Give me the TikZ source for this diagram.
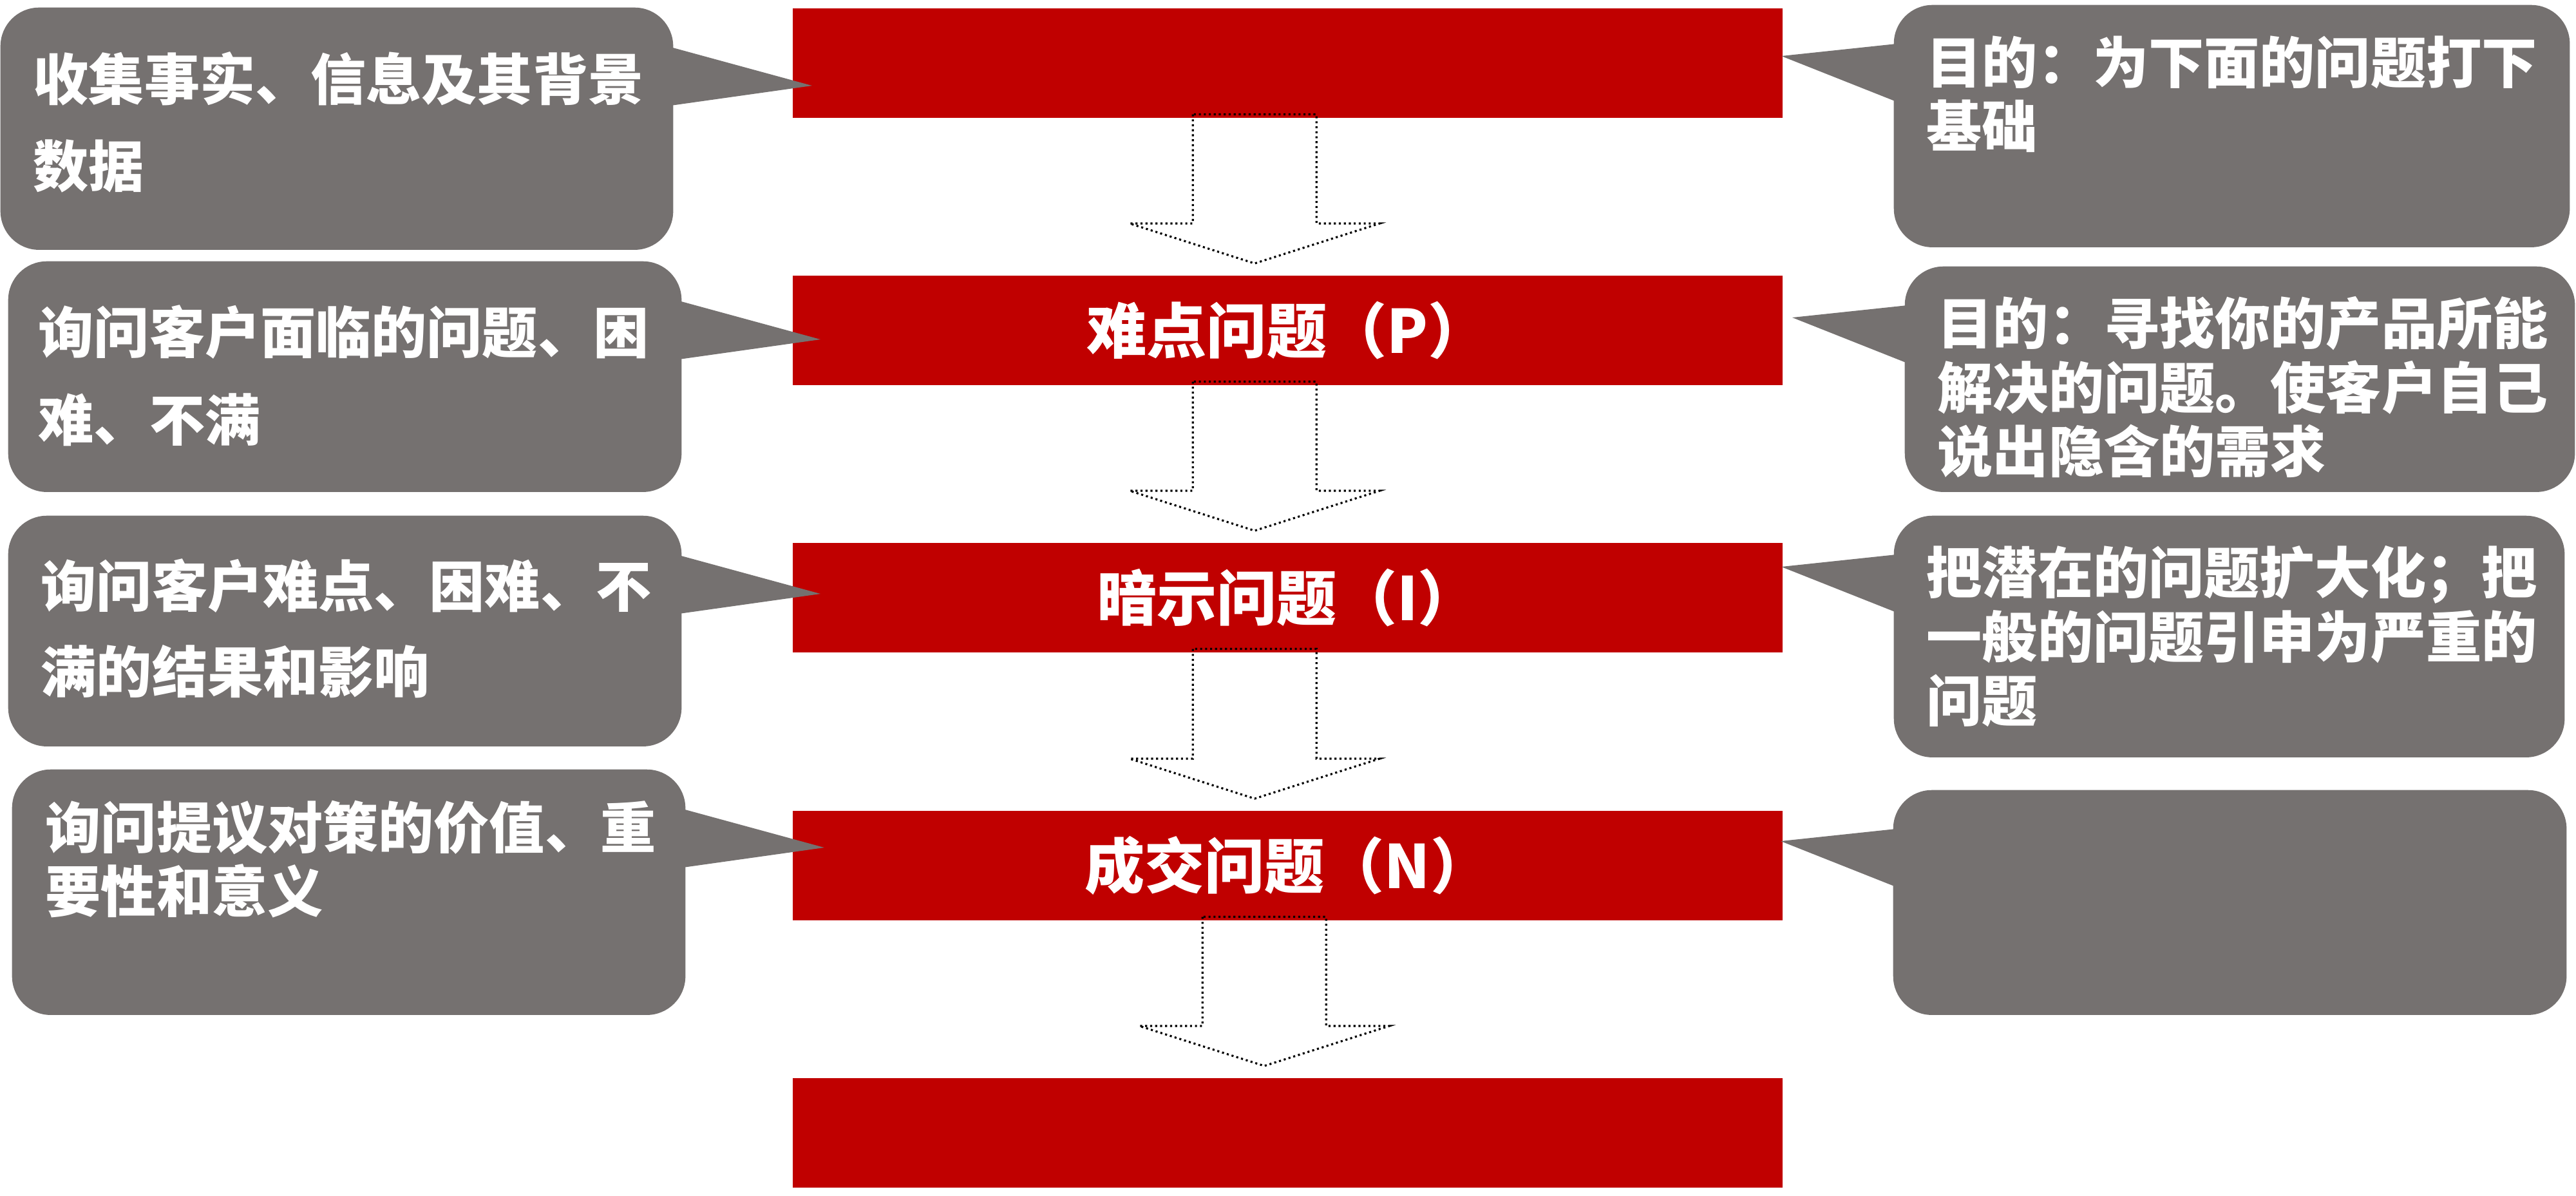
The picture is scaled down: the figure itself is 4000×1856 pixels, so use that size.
\documentclass[tikz,border=0pt]{standalone}
\usepackage{fontspec}
\newfontfamily\cjk{Noto Sans CJK SC}
\usetikzlibrary{calc, positioning}
\definecolor{qred}{RGB}{192,0,0}
\definecolor{tipgray}{RGB}{117,113,112}
\tikzset{
	qbar/.style={fill=qred, anchor=north west, minimum width=15.36cm, minimum height=1.70cm, inner sep=0pt, text=white, font=\cjk\bfseries\fontsize{26.5}{30}\selectfont},
	tipbox/.style={fill=tipgray, rounded corners=0.6cm, anchor=north west, inner sep=0pt},
	tiptext/.style={anchor=north west, inner sep=0pt, text=white, align=left, text width=10cm, font=\cjk\bfseries\fontsize{24.5}{#1}\selectfont},
	tiptext/.default=28.2,
	blockarrow/.style={draw=black, line width=0.9pt, dash pattern=on 0.9pt off 1.3pt},
}

\begin{document}
\begin{tikzpicture}[x=0.01cm, y=-0.01cm]
	\useasboundingbox (0,0) rectangle (4000,1856);

	% the five question bars
	\foreach \name/\top/\txt in {B1/12/{}, B2/427/{难点问题（P）}, B3/842/{暗示问题（I）}, B4/1258/{成交问题（N）}, B5/1673/{}} {
		\node[qbar] (\name) at (1230,\top) {\txt};
	}

	% dotted block arrows from bar to bar
	\foreach \a/\b/\dx in {B1/B2/-51, B2/B3/-51, B3/B4/-51, B4/B5/-36} {
		\draw[blockarrow]	($(\a.south)+(\dx-96,-6)$) -- ($(\b.north)+(\dx-96,-80)$) -- ($(\b.north)+(\dx-194,-80)$)
			-- ($(\b.north)+(\dx,-18)$) -- ($(\b.north)+(\dx+194,-80)$) -- ($(\b.north)+(\dx+96,-80)$)
			-- ($(\a.south)+(\dx+96,-6)$) -- cycle;
	}

	% grey callouts, left and right
	\foreach \name/\x/\y/\w/\h in {L1/0/11/10.44/3.76, L2/12/405/10.45/3.58, L3/12/800/10.45/3.58, L4/18/1194/10.45/3.81} {
		\node[tipbox, minimum width=\w cm, minimum height=\h cm] (\name) at (\x,\y) {};
		\fill[tipgray]	($(\name.north east)+(-5,62)$) -- ($(\name.north east)+(215,122)$) -- ($(\name.north east)+(-5,153)$) -- cycle;
	}
	\foreach \name/\x/\y/\w/\h in {R1/2940/7/10.49/3.76, R2/2957/413/10.40/3.50, R3/2940/800/10.41/3.75, R4/2939/1226/10.45/3.49} {
		\node[tipbox, minimum width=\w cm, minimum height=\h cm] (\name) at (\x,\y) {};
		\fill[tipgray]	($(\name.north west)+(5,61)$) -- ($(\name.north west)+(-174,80)$) -- ($(\name.north west)+(5,151)$) -- cycle;
	}

	\node[tiptext=38.4] (L1t) at ($(L1.north west)+(51,69)$) {收集事实、信息及其背景\\数据};
	\node[tiptext=38.6] (L2t) at ($(L2.north west)+(47,68)$) {询问客户面临的问题、困\\难、不满};
	\node[tiptext=37.8] (L3t) at ($(L3.north west)+(51,67)$) {询问客户难点、困难、不\\满的结果和影响};
	\node[tiptext] (L4t) at ($(L4.north west)+(52,48)$) {询问提议对策的价值、重\\要性和意义};
	\node[tiptext] (R1t) at ($(R1.north west)+(51,48)$) {目的：为下面的问题打下\\基础};
	\node[tiptext] (R2t) at ($(R2.north west)+(51,47)$) {目的：寻找你的产品所能\\解决的问题。使客户自己\\说出隐含的需求};
	\node[tiptext] (R3t) at ($(R3.north west)+(51,47)$) {把潜在的问题扩大化；把\\一般的问题引申为严重的\\问题};

\end{tikzpicture}
\end{document}
